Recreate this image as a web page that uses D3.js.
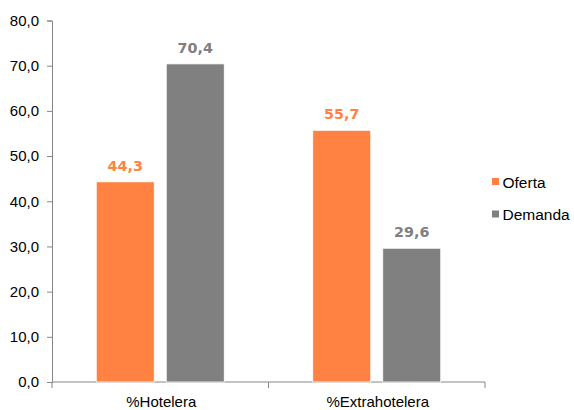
<!DOCTYPE html>
<html><head><meta charset="utf-8">
<script src="https://cdn.jsdelivr.net/npm/d3@7"></script>
<style>body{margin:0;background:#fff}</style>
</head><body>
<svg id="c" width="574" height="410"></svg>
<script>
const categories = ["%Hotelera", "%Extrahotelera"];
const seriesNames = ["Oferta", "Demanda"];
const oferta = [44.3, 55.7];
const demanda = [70.4, 29.6];
const yTicks = [0, 10, 20, 30, 40, 50, 60, 70, 80];
const colors = ["#FF8242", "#808080"];

(function () {
const svg = d3.select("#c");
const mLeft = 52, mRight = 485, mTop = 20.5, mBottom = 382;
const fmt = v => d3.format(".1f")(v).replace(".", ",");

const y = d3.scaleLinear().domain([0, 80]).range([mBottom, mTop]);
const x0 = d3.scaleBand().domain(categories).range([mLeft, mRight]).paddingInner(0).paddingOuter(0);

const bw = 58, gap = 12;
const series = [oferta, demanda];

// y axis
const yAxis = d3.axisLeft(y).tickValues(yTicks).tickSize(5).tickPadding(8).tickFormat(fmt);
const gy = svg.append("g").attr("transform", `translate(${mLeft},0)`).call(yAxis);
gy.select(".domain").attr("stroke", "#868686");
gy.selectAll(".tick line").attr("stroke", "#868686");
gy.selectAll(".tick text").attr("font-family", "Liberation Sans, Arial, sans-serif").attr("font-size", "15px").attr("fill", "#000");

// x axis
const gx = svg.append("g").attr("transform", `translate(0,${mBottom})`);
gx.append("line").attr("x1", mLeft).attr("x2", mRight).attr("y1", 0).attr("y2", 0).attr("stroke", "#868686");
const xb = [mLeft, ...categories.map(c => x0(c) + x0.bandwidth())];
gx.selectAll("line.t").data(xb).join("line").attr("class", "t")
  .attr("x1", d => d).attr("x2", d => d).attr("y1", 0).attr("y2", 6).attr("stroke", "#868686");
gx.selectAll("text").data(categories).join("text")
  .attr("x", d => x0(d) + x0.bandwidth() / 2 + 1).attr("y", 25)
  .attr("text-anchor", "middle")
  .attr("font-family", "Liberation Sans, Arial, sans-serif").attr("font-size", "15px").attr("fill", "#000")
  .text(d => d);

// bars
series.forEach((vals, si) => {
  const g = svg.append("g");
  categories.forEach((c, ci) => {
    const center = x0(c) + x0.bandwidth() / 2;
    const bx = si === 0 ? center - gap / 2 - bw : center + gap / 2;
    const v = vals[ci];
    g.append("rect").attr("x", bx).attr("y", y(v)).attr("width", bw).attr("height", mBottom - y(v))
      .attr("fill", colors[si]).attr("stroke", "#fff").attr("stroke-width", 0.8);
    g.append("text").attr("x", bx + bw / 2).attr("y", y(v) - 11)
      .attr("text-anchor", "middle")
      .attr("font-family", "DejaVu Sans, Verdana, sans-serif").attr("font-weight", "bold")
      .attr("font-size", "14.3px").attr("fill", colors[si])
      .text(fmt(v));
  });
});

// legend
const lg = svg.append("g");
seriesNames.forEach((s, i) => {
  const yy = 178 + i * 32.5;
  lg.append("rect").attr("x", 492).attr("y", yy).attr("width", 7).attr("height", 7).attr("fill", colors[i]);
  lg.append("text").attr("x", 502.5).attr("y", yy + 9.5)
    .attr("font-family", "Liberation Sans, Arial, sans-serif").attr("font-size", "15.5px").attr("fill", "#000")
    .text(s);
});
})();
</script>
</body></html>
